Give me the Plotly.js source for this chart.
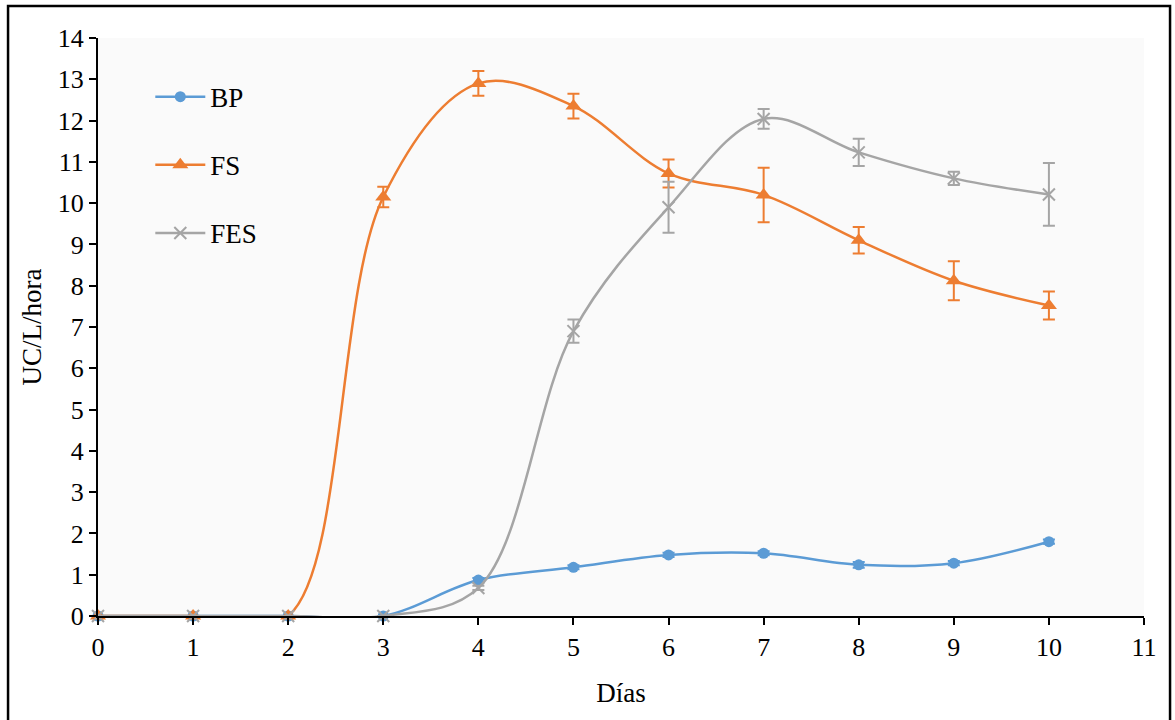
<!DOCTYPE html>
<html>
<head>
<meta charset="utf-8">
<script src="https://cdn.plot.ly/plotly-3.0.1.min.js"></script>
<style>html,body{margin:0;padding:0;background:#fff;}#chart{width:1175px;height:720px;}</style>
</head>
<body>
<div id="chart"></div>
<script>
const days = [0, 1, 2, 3, 4, 5, 6, 7, 8, 9, 10];
const bpValues = [0, 0, 0, 0, 0.87, 1.18, 1.48, 1.52, 1.24, 1.28, 1.8];
const bpErrors = [0, 0, 0, 0, 0.05, 0.05, 0.05, 0.05, 0.07, 0.05, 0.05];
const fsValues = [0, 0, 0, 10.15, 12.9, 12.35, 10.72, 10.2, 9.1, 8.12, 7.52];
const fsErrors = [0, 0, 0, 0.25, 0.3, 0.3, 0.34, 0.66, 0.32, 0.47, 0.34];
const fesValues = [0, 0, 0, 0, 0.68, 6.9, 9.9, 12.04, 11.23, 10.6, 10.21];
const fesErrors = [0, 0, 0, 0, 0.05, 0.28, 0.62, 0.24, 0.33, 0.16, 0.76];
const xTicks = [0, 1, 2, 3, 4, 5, 6, 7, 8, 9, 10, 11];
const yTicks = [0, 1, 2, 3, 4, 5, 6, 7, 8, 9, 10, 11, 12, 13, 14];

const FONT = '"Liberation Serif", "Times New Roman", serif';

function series(name, y, err, color, symbol, size, group) {
  return {
    x: days, y: y, name: name, type: 'scatter', mode: 'lines+markers',
    legendgroup: group,
    line: {color: color, width: 2.5, shape: 'spline', smoothing: 1},
    marker: {color: color, symbol: symbol, size: size,
             line: {color: color, width: symbol === 'x-thin' ? 2 : 0}},
    error_y: {type: 'data', array: err, visible: true, color: color, thickness: 2, width: 6},
    cliponaxis: false
  };
}

const data = [
  series('BP', bpValues, bpErrors, '#5B9BD5', 'circle', 11, 'g1'),
  series('FS', fsValues, fsErrors, '#ED7D31', 'triangle-up', 14, 'g2'),
  series('FES', fesValues, fesErrors, '#A5A5A5', 'x-thin', 12, 'g3')
];

const layout = {
  width: 1175, height: 720,
  margin: {l: 98, r: 31, t: 38, b: 104},
  paper_bgcolor: '#ffffff',
  plot_bgcolor: '#fafafa',
  font: {family: FONT, size: 26, color: '#000'},
  showlegend: true,
  legend: {x: 0.05, y: 0.94, xanchor: 'left', yanchor: 'top',
           bgcolor: 'rgba(0,0,0,0)', font: {family: FONT, size: 27, color: '#000'},
           tracegroupgap: 30, itemwidth: 50},
  xaxis: {
    range: [0, 11], tickvals: xTicks, ticktext: xTicks.map(String),
    showgrid: false, zeroline: false, showline: true, linecolor: '#000', linewidth: 2,
    ticks: 'outside', ticklen: 7, tickwidth: 2, tickcolor: '#000',
    tickfont: {family: FONT, size: 26, color: '#000'},
    title: {text: 'Días', font: {family: FONT, size: 27, color: '#000'}, standoff: 22}
  },
  yaxis: {
    range: [0, 14], tickvals: yTicks, ticktext: yTicks.map(String),
    showgrid: false, zeroline: false, showline: true, linecolor: '#000', linewidth: 2,
    ticks: 'outside', ticklen: 7, tickwidth: 2, tickcolor: '#000',
    tickfont: {family: FONT, size: 26, color: '#000'},
    title: {text: 'UC/L/hora', font: {family: FONT, size: 27, color: '#000'}, standoff: 8}
  },
  shapes: [{
    type: 'rect', xref: 'paper', yref: 'paper',
    x0: -0.086, x1: 1.0249, y0: -0.3, y1: 1.0554,
    line: {color: '#000', width: 2.5}, fillcolor: 'rgba(0,0,0,0)', layer: 'below'
  }]
};

Plotly.newPlot('chart', data, layout, {displayModeBar: false, staticPlot: true});
</script>
</body>
</html>
